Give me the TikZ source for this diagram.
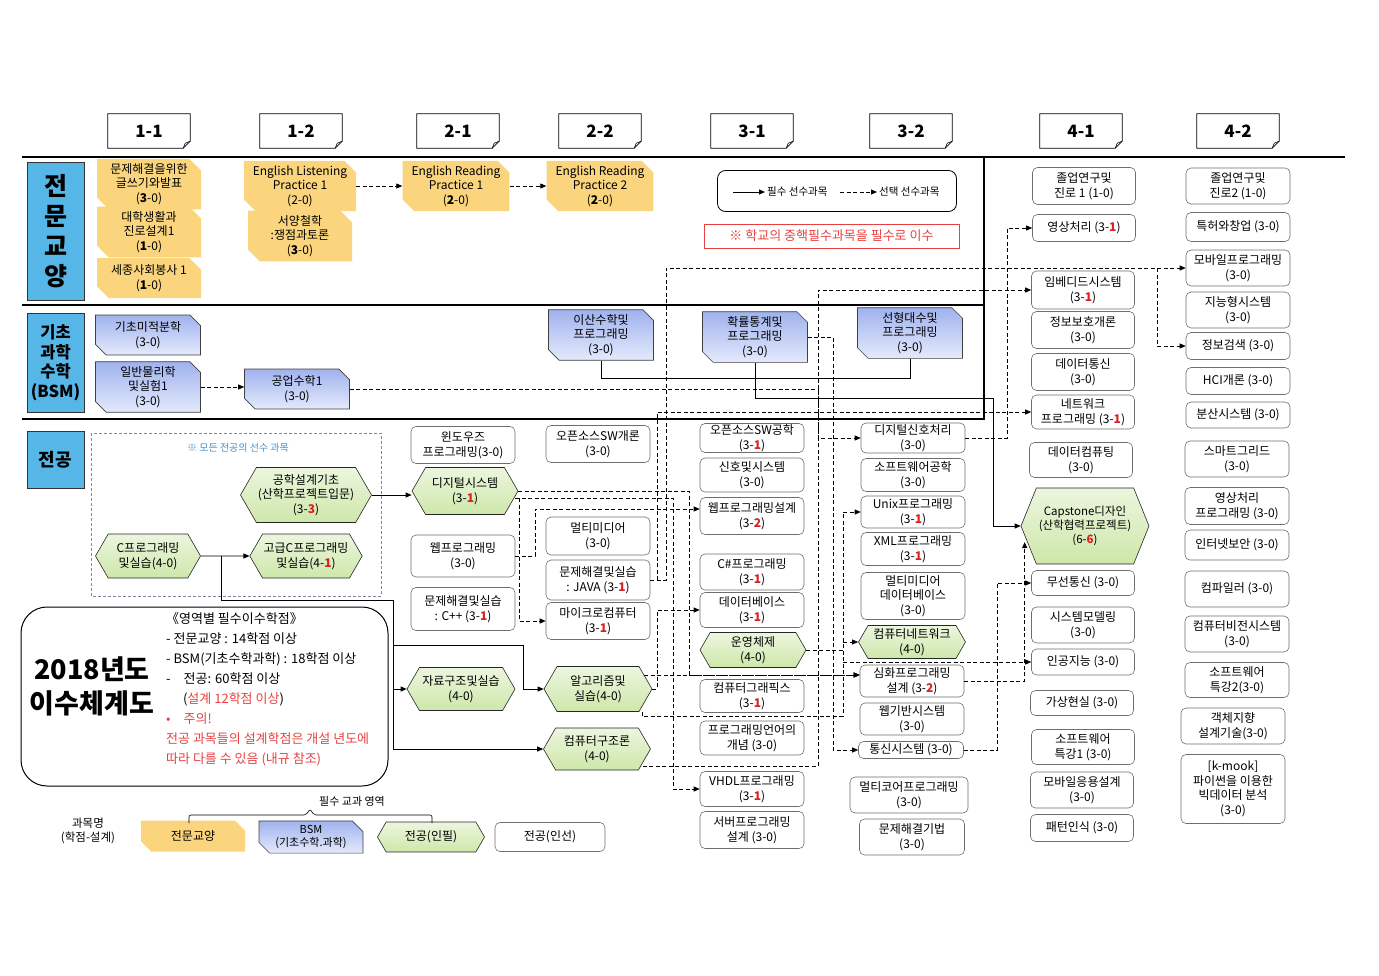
\documentclass[tikz,border=0pt]{standalone}
\usepackage{fontspec}
\setmainfont{Noto Sans CJK KR}
\usetikzlibrary{calc,arrows.meta,shapes.misc,shapes.symbols}
\definecolor{libY}{RGB}{250,213,125}
\definecolor{bsmT}{RGB}{160,178,238}
\definecolor{bsmB}{RGB}{228,234,252}
\definecolor{majT}{RGB}{236,246,222}
\definecolor{majB}{RGB}{206,231,170}
\definecolor{secBlue}{RGB}{86,182,232}
\definecolor{dred}{RGB}{215,35,35}
\definecolor{nred}{RGB}{232,64,64}
\definecolor{boxGray}{RGB}{110,110,110}
\definecolor{noteBlue}{RGB}{70,145,205}
\definecolor{noteGray}{RGB}{125,135,160}
\newcommand{\dz}[1]{{\color{dred}\textbf{#1}}}

\tikzset{
  course/.style={align=center, inner sep=1pt, font=\fontsize{12}{14.5}\selectfont},
  libbox/.style={course, chamfered rectangle, chamfered rectangle corners={north east,south west},
    chamfered rectangle xsep=8pt, fill=libY, minimum width=104pt},
  bsmbox/.style={course, chamfered rectangle, chamfered rectangle corners={north east,south west},
    chamfered rectangle xsep=7pt, draw=black!75, line width=0.6pt, top color=bsmT, bottom color=bsmB, minimum width=105pt},
  reqhex/.style={course, signal, signal to=east and west, signal pointer angle=120,
    draw=black!85, line width=0.6pt, top color=majT, bottom color=majB},
  elect/.style={course, rectangle, rounded corners=5pt, draw=boxGray, line width=0.6pt, fill=white, minimum width=104pt},
  semhead/.style={font=\fontsize{17}{20}\selectfont\bfseries, minimum width=82pt, minimum height=34pt, inner sep=0pt},
  seclab/.style={draw=black!80, line width=0.8pt, fill=secBlue, align=center, minimum width=57pt, inner sep=0pt},
  req/.style={line width=0.8pt, -{Triangle[length=6pt,width=5pt]}},
  opt/.style={req, dash pattern=on 4pt off 2.5pt},
  divider/.style={line width=1.6pt},
}

\begin{document}
\begin{tikzpicture}[x=1pt,y=-1pt]
  %%%%% START %%%%%
  \useasboundingbox (0,0) rectangle (1379,975);

  % semesters
  \foreach \lab/\x [count=\i] in {1-1/149,1-2/301,2-1/458,2-2/600,3-1/752,3-2/911,4-1/1081,4-2/1238} {
    \node[semhead] (h\i) at (\x,131) {\lab};
    \draw[line width=0.8pt] (h\i.north west) -- (h\i.north east) -- ($(h\i.south east)+(0,-7)$)
      -- ($(h\i.south east)+(-7,0)$) -- (h\i.south west) -- cycle;
    \draw[line width=0.6pt] ($(h\i.south east)+(0,-7)$) -- ($(h\i.south east)+(-5,-5)$) -- ($(h\i.south east)+(-7,0)$);
  }

  \draw[divider] (22,157) -- (1345,157);
  \draw[divider] (22,305) -- (984,305);
  \draw[divider] (22,419) -- (984,419) -- (984,157);

  \node[seclab, minimum height=138pt, font=\fontsize{25}{30}\selectfont\bfseries] (secL) at (55.5,231) {전\\문\\교\\양};
  \node[seclab, minimum height=99pt, font=\fontsize{16.5}{19.5}\selectfont\bfseries] (secB) at (55.5,362.5) {기초\\과학\\수학\\(BSM)};
  \node[seclab, minimum height=57pt, font=\fontsize{18}{20}\selectfont\bfseries] (secM) at (55.5,459.5) {전공};

  % liberal arts
  \node[libbox, minimum height=44pt] (wr) at (149,184) {문제해결을위한\\글쓰기와발표\\(\textbf{3}-0)};
  \node[libbox, minimum height=40pt] (car1) at (149,232) {대학생활과\\진로설계1\\(\textbf{1}-0)};
  \node[libbox, minimum height=40pt] (vol) at (149,278) {세종사회봉사 1\\(\textbf{1}-0)};
  \node[libbox, minimum height=44pt] (el1) at (300,186) {English Listening\\Practice 1\\(2-0)};
  \node[libbox, minimum height=44pt] (phil) at (300,236) {서양철학\\:쟁점과토론\\(\textbf{3}-0)};
  \node[libbox, minimum height=44pt] (er1) at (456,186) {English Reading\\Practice 1\\(\textbf{2}-0)};
  \node[libbox, minimum height=44pt] (er2) at (600,186) {English Reading\\Practice 2\\(\textbf{2}-0)};

  \node[draw, rounded corners=8pt, line width=0.8pt, minimum width=239pt, minimum height=41pt] (lgbox) at (837,191) {};
  \node[font=\fontsize{10.5}{12}\selectfont, anchor=west, inner sep=2pt] (lgreq) at (765,192) {필수 선수과목};
  \node[font=\fontsize{10.5}{12}\selectfont, anchor=west, inner sep=2pt] (lgopt) at (877,192) {선택 선수과목};
  \coordinate (lgs) at (733,192);
  \coordinate (lgd) at (840,192);
  \draw[req] (lgs) -- (lgreq.west);
  \draw[opt] (lgd) -- (lgopt.west);
  \node[draw=nred, line width=0.6pt, text=nred, font=\fontsize{13}{15}\selectfont, minimum width=255pt,
    minimum height=24pt, inner sep=0pt] (rnote) at (831.5,236) {※ 학교의 중핵필수과목을 필수로 이수};

  % BSM
  \node[bsmbox, minimum height=40pt] (calc) at (148,335) {기초미적분학\\(3-0)};
  \node[bsmbox, minimum height=50pt] (phys) at (148,387) {일반물리학\\및실험1\\(3-0)};
  \node[bsmbox, minimum height=40pt] (em1) at (297,389) {공업수학1\\(3-0)};
  \node[bsmbox, minimum height=45pt] (dm) at (601,335) {이산수학및\\프로그래밍\\(3-0)};
  \node[bsmbox, minimum height=47pt] (ps) at (755,337) {확률통계및\\프로그래밍\\(3-0)};
  \node[bsmbox, minimum height=45pt] (la) at (910,333) {선형대수및\\프로그래밍\\(3-0)};

  % major
  \draw[noteGray, line width=0.6pt, dash pattern=on 3pt off 2pt] (91,433) rectangle (381,596);
  \node[text=noteBlue, font=\fontsize{10}{12}\selectfont] (prelab) at (238,448) {※ 모든 전공의 선수 과목};
  \node[reqhex, minimum width=131pt, minimum height=55pt] (edb) at (306,495) {공학설계기초\\(산학프로젝트입문)\\(3-\dz{3})};
  \node[reqhex, minimum width=105pt, minimum height=44pt] (cpr) at (148,556) {C프로그래밍\\및실습(4-0)};
  \node[reqhex, minimum width=105pt, minimum height=44pt] (acp) at (306,556) {고급C프로그래밍\\및실습(4-\dz{1})};

  \node[elect, minimum height=37pt] (win) at (463,445) {윈도우즈\\프로그래밍(3-0)};
  \node[reqhex, minimum width=106pt, minimum height=47pt] (digs) at (465,491) {디지털시스템\\(3-\dz{1})};
  \node[elect, minimum height=42pt] (webp) at (463,556) {웹프로그래밍\\(3-0)};
  \node[elect, minimum height=43pt] (pcpp) at (463,609) {문제해결및실습\\: C++ (3-\dz{1})};
  \node[reqhex, minimum width=108pt, minimum height=43pt] (dstr) at (461,689) {자료구조및실습\\(4-0)};

  \node[elect, minimum height=37pt] (oss) at (598,444) {오픈소스SW개론\\(3-0)};
  \node[elect, minimum height=38pt] (mm) at (598,536) {멀티미디어\\(3-0)};
  \node[elect, minimum height=40pt] (java) at (598,580) {문제해결및실습\\: JAVA (3-\dz{1})};
  \node[elect, minimum height=37pt] (micro) at (598,621) {마이크로컴퓨터\\(3-\dz{1})};
  \node[reqhex, minimum width=108pt, minimum height=45pt] (algo) at (598,689) {알고리즘및\\실습(4-0)};
  \node[reqhex, minimum width=107pt, minimum height=42pt] (arch) at (597,749) {컴퓨터구조론\\(4-0)};

  \node[elect, minimum height=29pt] (osse) at (752,438) {오픈소스SW공학\\(3-\dz{1})};
  \node[elect, minimum height=34pt] (sigs) at (752,475) {신호및시스템\\(3-0)};
  \node[elect, minimum height=37pt] (wpd) at (752,516) {웹프로그래밍설계\\(3-\dz{2})};
  \node[elect, minimum height=36pt] (csh) at (752,572) {C\#프로그래밍\\(3-\dz{1})};
  \node[elect, minimum height=35pt] (db) at (752,610) {데이터베이스\\(3-\dz{1})};
  \node[reqhex, minimum width=106pt, minimum height=35pt] (os) at (753,650) {운영체제\\(4-0)};
  \node[elect, minimum height=33pt] (cg) at (752,696) {컴퓨터그래픽스\\(3-\dz{1})};
  \node[elect, minimum height=34pt] (plc) at (752,738) {프로그래밍언어의\\개념 (3-0)};
  \node[elect, minimum height=35pt] (vhdl) at (752,789) {VHDL프로그래밍\\(3-\dz{1})};
  \node[elect, minimum height=37pt] (srv) at (752,830) {서버프로그래밍\\설계 (3-0)};

  \node[elect, minimum height=30pt] (dsp) at (913,438) {디지털신호처리\\(3-0)};
  \node[elect, minimum height=33pt] (swe) at (913,475) {소프트웨어공학\\(3-0)};
  \node[elect, minimum height=32pt] (unix) at (913,512) {Unix프로그래밍\\(3-\dz{1})};
  \node[elect, minimum height=33pt] (xml) at (913,549) {XML프로그래밍\\(3-\dz{1})};
  \node[elect, minimum height=47pt] (mmdb) at (913,596) {멀티미디어\\데이터베이스\\(3-0)};
  \node[reqhex, minimum width=107pt, minimum height=33pt] (cnet) at (912,642) {컴퓨터네트워크\\(4-0)};
  \node[elect, minimum height=32pt] (adv) at (912,681) {심화프로그래밍\\설계 (3-\dz{2})};
  \node[elect, minimum height=32pt] (wbs) at (912,719) {웹기반시스템\\(3-0)};
  \node[elect, minimum width=105pt, minimum height=17pt] (comm) at (911,750) {통신시스템 (3-0)};
  \node[elect, minimum width=118pt, minimum height=36pt] (mcp) at (909,795) {멀티코어프로그래밍\\(3-0)};
  \node[elect, minimum width=105pt, minimum height=36pt] (psm) at (912,837) {문제해결기법\\(3-0)};

  \node[elect, minimum width=103pt, minimum height=37pt] (grad1) at (1084,186) {졸업연구및\\진로 1 (1-0)};
  \node[elect, minimum width=103pt, minimum height=27pt] (imgp) at (1084,228) {영상처리 (3-\dz{1})};
  \node[elect, minimum width=103pt, minimum height=38pt] (emb) at (1083,290) {임베디드시스템\\(3-\dz{1})};
  \node[elect, minimum width=103pt, minimum height=37pt] (isec) at (1083,330) {정보보호개론\\(3-0)};
  \node[elect, minimum width=103pt, minimum height=37pt] (dcom) at (1083,372) {데이터통신\\(3-0)};
  \node[elect, minimum width=103pt, minimum height=34pt] (netp) at (1083,412) {네트워크\\프로그래밍 (3-\dz{1})};
  \node[elect, minimum width=103pt, minimum height=35pt] (dcp) at (1081,460) {데이터컴퓨팅\\(3-0)};
  \node[reqhex, signal pointer angle=136, font=\fontsize{11.5}{14}\selectfont, minimum width=128pt, minimum height=76pt]
    (cap) at (1085,526) {Capstone디자인\\(산학협력프로젝트)\\(6-\dz{6})};
  \node[elect, minimum width=103pt, minimum height=25pt] (wl) at (1083,583) {무선통신 (3-0)};
  \node[elect, minimum width=103pt, minimum height=36pt] (sysm) at (1083,625) {시스템모델링\\(3-0)};
  \node[elect, minimum width=103pt, minimum height=26pt] (ai) at (1083,662) {인공지능 (3-0)};
  \node[elect, minimum width=103pt, minimum height=25pt] (vr) at (1082,703) {가상현실 (3-0)};
  \node[elect, minimum width=103pt, minimum height=35pt] (sws1) at (1083,747) {소프트웨어\\특강1 (3-0)};
  \node[elect, minimum width=103pt, minimum height=36pt] (mad) at (1082,790) {모바일응용설계\\(3-0)};
  \node[elect, minimum width=103pt, minimum height=27pt] (pr) at (1082,828) {패턴인식 (3-0)};

  \node[elect, minimum height=36pt] (grad2) at (1238,186) {졸업연구및\\진로2 (1-0)};
  \node[elect, minimum height=29pt] (pat) at (1238,227) {특허와창업 (3-0)};
  \node[elect, minimum height=36pt] (mobp) at (1238,268) {모바일프로그래밍\\(3-0)};
  \node[elect, minimum height=36pt] (isys) at (1238,310) {지능형시스템\\(3-0)};
  \node[elect, minimum height=27pt] (ir) at (1238,346) {정보검색 (3-0)};
  \node[elect, minimum height=27pt] (hci) at (1238,381) {HCI개론 (3-0)};
  \node[elect, minimum height=26pt] (dsys) at (1238,415) {분산시스템 (3-0)};
  \node[elect, minimum height=36pt] (sg) at (1237,459) {스마트그리드\\(3-0)};
  \node[elect, minimum height=37pt] (ipp) at (1237,506) {영상처리\\프로그래밍 (3-0)};
  \node[elect, minimum height=30pt] (isc) at (1237,545) {인터넷보안 (3-0)};
  \node[elect, minimum height=36pt] (comp) at (1237,589) {컴파일러 (3-0)};
  \node[elect, minimum height=36pt] (cvs) at (1237,634) {컴퓨터비전시스템\\(3-0)};
  \node[elect, minimum height=35pt] (sws2) at (1237,680) {소프트웨어\\특강2(3-0)};
  \node[elect, minimum height=36pt] (ood) at (1233,726) {객체지향\\설계기술(3-0)};
  \node[elect, minimum height=69pt] (kmook) at (1233,789) {[k-mook]\\파이썬을 이용한\\빅데이터 분석\\(3-0)};

  % year box
  \node[draw, line width=1pt, rounded corners=26pt, minimum width=367pt, minimum height=179pt] (yr) at (204.5,696.5) {};
  \node[font=\fontsize{27}{34}\selectfont\bfseries, align=center] (yrt) at (92,686) {2018년도\\이수체계도};
  \node[anchor=north west, align=left, font=\fontsize{13}{20}\selectfont, inner sep=0pt] (yrx) at (166,612)
    {《영역별 필수이수학점》\\- 전문교양 : 14학점 이상\\- BSM(기초수학과학) : 18학점 이상\\-\quad 전공: 60학점 이상\\
     \hspace{1.3em}(\textcolor{nred}{설계 12학점 이상})\\\textcolor{nred}{•\quad 주의!}\\
     \textcolor{nred}{전공 과목들의 설계학점은 개설 년도에}\\\textcolor{nred}{따라 다를 수 있음 (내규 참조)}};

  % legend
  \node[font=\fontsize{11.5}{14}\selectfont, align=center] (lgN) at (88,831) {과목명\\(학점-설계)};
  \node[font=\fontsize{11}{13}\selectfont] (lgT) at (352,801) {필수 교과 영역};
  \node[libbox, minimum height=31pt] (lgA) at (193,836) {전문교양};
  \node[bsmbox, minimum width=104pt, minimum height=30pt, font=\fontsize{11}{12.5}\selectfont] (lgB) at (311,837) {BSM\\(기초수학.과학)};
  \node[reqhex, minimum width=107pt, minimum height=30pt] (lgC) at (431,837) {전공(인필)};
  \node[elect, minimum width=110pt, minimum height=29pt] (lgD) at (550,837) {전공(인선)};
  \draw[line width=0.6pt, rounded corners=2pt] (189,823) -- (189,815) -- (306,815) -- (310,809) -- (314,815) -- (432,815) -- (432,823);

  % required prerequisites
  \coordinate (cj) at (221,556);
  \coordinate (cb) at (393,600);
  \coordinate (ca) at (523,645);
  \coordinate (xn) at (993,398);
  \draw[req] (cpr) -- (acp);
  \draw[req] (cj) |- (cb) |- (arch.west);
  \draw[req] (cb |- dstr.west) -- (dstr.west);
  \draw[req] (cb |- ca) -- (ca) |- (algo.west);
  \draw[req] (edb.east) -- (edb.east -| digs.west);
  \draw[line width=0.8pt] (dm.south) -- ++(0,18) -| (la.south);
  \draw[req] (ps.south) |- (xn) |- (cap.west);

  % optional prerequisites
  \coordinate (xa) at (818,0);
  \coordinate (xb) at (833,0);
  \coordinate (xc) at (666,0);
  \coordinate (xd) at (1157,0);
  \coordinate (xe) at (657,0);
  \coordinate (xg) at (689,0);
  \coordinate (xh) at (673,0);
  \coordinate (xi) at (535,0);
  \coordinate (xj) at (843,0);
  \coordinate (xk) at (1007,0);
  \coordinate (xm) at (997,0);
  \coordinate (advin) at ($(adv.west)+(0,-6)$);
  \coordinate (wpdin) at ($(wpd.west)+(0,-7)$);
  \coordinate (dgo) at ($(digs.east)+(-3,7)$);
  \coordinate (alb) at (642,716);
  \coordinate (capin) at ($(cap.west)+(4,16)$);

  \draw[opt] (el1.east) -- (er1.west);
  \draw[opt] (er1.east) -- (er2.west);
  \draw[opt] (phys.east) -- (phys.east -| em1.west);
  \draw[opt] (em1.east) -| (xa |- emb.west) -- (emb.west);
  \draw[opt] (em1.east -| xa) |- (dsp.west);
  \draw[opt,-] ($(arch.east)+(-8,17)$) -| (em1.east -| xa);
  \draw[opt] (ps.east) -| (xb |- comm.west) -- (comm.west);
  \draw[opt] (java.east) -| (xc |- mobp.west) -- (mobp.west);
  \draw[opt] (xd |- mobp.west) |- (ir.west);
  \draw[opt] (java.east) -| (xe |- netp.west) -- (netp.west);
  \draw[opt] (algo.east) -| (xe |- db.west) -- (db.west);
  \draw[opt] (digs.east) -| (xg |- advin) -- (advin);
  \draw[opt] (dgo) -| (xh |- vhdl.west) -- (vhdl.west);
  \draw[opt] ($(digs.east)+(1,7)$) |- (micro.west);
  \draw[opt] (webp.east) -| (xi |- wpdin) -- (wpdin);
  \draw[opt] ([xshift=-8pt]algo.east |- advin) -- (advin);
  \draw[opt] ($(algo.south)+(44,0)$) -- (alb) -| (xj |- unix.west) -- (unix.west);
  \draw[opt] (xj |- cnet.west) -- (cnet.west);
  \draw[opt] (xj |- ai.west) -- (ai.west);
  \draw[opt,-] (os.east) -- (os.east -| xj);
  \draw[opt] (dsp.east) -| (xk |- imgp.west) -- (imgp.west);
  \draw[opt] (adv.east) -| (capin);
  \draw[opt] (comm.east) -| (xm |- wl.west) -- (wl.west);
  %%%%% END %%%%%
\end{tikzpicture}
\end{document}
